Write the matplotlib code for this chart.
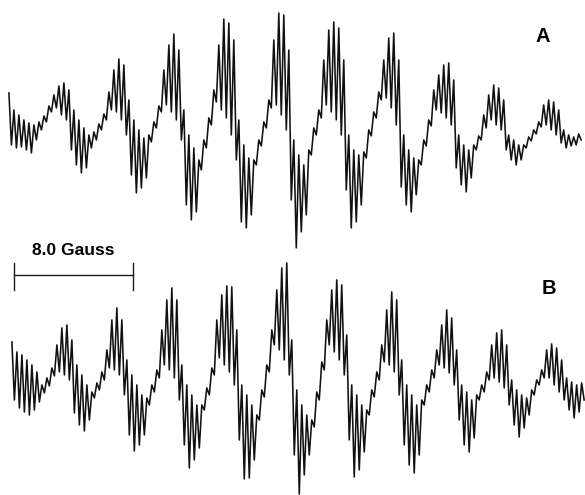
import numpy as np
import matplotlib
matplotlib.use('Agg')
import matplotlib.pyplot as plt

plt.rcParams['font.family'] = ['Liberation Sans', 'DejaVu Sans']

# field sampling (Gauss): one value every half hyperfine wiggle
field_step = 0.168
field_start_a = 0.60
field_start_b = 0.80
bar_start = 0.94
bar_length = 8.0  # Gauss

# spectrum A: upper / lower extremes of each fine wiggle (arb. units)
tops_a = [37, 20, 15, 10, 7, 5, 8, 14, 24,
          35, 44, 47, 40, 20, 10, 2, -5, -2, 6, 16,
          38, 60, 71, 65, 30, 10, 0, -8, -5, 8, 24,
          60, 85, 96, 80, 20, -5, -18, -30, -10, 12,
          40, 85, 111, 107, 90, 10, -15, -28, -30, -10, 8, 30,
          90, 117, 115, 80, -10, -25, -35, -20, 2, 20,
          70, 100, 108, 102, 70, -5, -20, -25, -22, 0, 18, 38,
          70, 92, 97, 70, -5, -20, -28, -30, -10, 10,
          40, 55, 65, 67, 50, -5, -15, -20, -15, -6, 15,
          35, 45, 42, 30, -5, -10, -15, -15, -7, 0, 8,
          25, 30, 28, 20, 0, -5, -7, -4]
bots_a = [-15, -18, -17, -20, -23, -10, 0, 8, 18,
          22, 15, 10, -20, -35, -43, -38, -18, -10, 0, 10,
          20, 18, 10, -5, -45, -63, -58, -48, -12, 2, 18,
          25, 18, 10, -10, -75, -90, -82, -40, -18, 5,
          28, 20, 12, -5, -30, -92, -98, -85, -35, -16, 2, 22,
          25, 15, 0, -70, -118, -102, -85, -25, -5, 12,
          25, 18, 10, -5, -60, -98, -92, -75, -28, -6, 12, 30,
          32, 22, 5, -57, -75, -82, -65, -35, -16, 4,
          20, 17, 12, 5, -38, -55, -62, -48, -20, -10, 2,
          10, 5, 0, -20, -30, -35, -30, -18, -11, -4, 3,
          5, 0, -5, -13, -18, -16, -15, -10]

# spectrum B
tops_b = [43, 33, 30, 25, 20, 13, 0, 7, 17,
          40, 57, 60, 45, 20, 10, 0, -7, 2, 13,
          35, 65, 77, 65, 25, 10, 0, -10, -13, 0, 15,
          55, 85, 97, 85, 20, 0, -10, -20, -20, -3, 17,
          65, 90, 99, 98, 55, 0, -10, -20, -30, -5, 20, 55,
          95, 117, 122, 45, -5, -20, -30, -35, -7, 23,
          65, 95, 105, 100, 50, 0, -10, -20, -25, -5, 13, 40,
          75, 93, 85, 25, 0, -10, -20, -15, 0, 15,
          35, 60, 75, 67, 35, 0, -7, -15, -10, 0, 13,
          40, 52, 55, 40, 5, -5, -10, -13, -5, 5, 15,
          35, 41, 37, 25, 7, 3, 0, 2]
bots_b = [-15, -23, -27, -30, -25, -17, -8, -1, 9,
          13, 10, 5, -28, -40, -46, -35, -13, -5, 5,
          17, 15, 10, -10, -50, -66, -60, -50, -20, -7, 7,
          20, 15, 7, -15, -60, -83, -75, -63, -25, -10, 10,
          27, 20, 13, 0, -55, -94, -93, -75, -35, -12, 13, 40,
          35, 25, 10, -70, -109, -90, -70, -42, -15, 15,
          40, 33, 25, 10, -55, -92, -85, -67, -30, -12, 5, 23,
          20, 13, -10, -60, -80, -88, -70, -20, -7, 7,
          20, 17, 12, 0, -35, -60, -67, -53, -15, -7, 5,
          7, 3, -3, -20, -40, -52, -43, -30, -10, 0, 7,
          7, 0, -7, -15, -25, -33, -27, -15]


def trace(tops, bots, start):
    sig = np.column_stack([tops, bots]).ravel()
    field = start + field_step * np.arange(len(sig))
    return field, sig


fig = plt.figure(figsize=(5.85, 4.95), dpi=100)
ax_a = fig.add_axes([0, 0.475, 1, 0.525])
ax_b = fig.add_axes([0, 0, 1, 0.475])

xa, ya = trace(tops_a, bots_a, field_start_a)
xb, yb = trace(tops_b, bots_b, field_start_b)

ax_a.plot(xa, ya, color='#111111', lw=1.15)
ax_b.plot(xb, yb, color='#111111', lw=1.15)

for ax in (ax_a, ax_b):
    ax.set_xlim(0, 39.33)
    ax.axis('off')
ax_a.set_ylim(-130, 130)
ax_b.set_ylim(-110, 125)

ax_a.text(36.5, 93, 'A', fontsize=14.5, fontweight='bold', ha='center', va='center')
ax_b.text(36.9, 96, 'B', fontsize=14.5, fontweight='bold', ha='center', va='center')

# scale bar
bar_end = bar_start + bar_length
ax_b.plot([bar_start, bar_end], [110, 110], color='#1a1a1a', lw=1.0, clip_on=False)
ax_b.plot([bar_start, bar_start], [95, 122], color='#1a1a1a', lw=1.0, clip_on=False)
ax_b.plot([bar_end, bar_end], [95, 122], color='#1a1a1a', lw=1.0, clip_on=False)
ax_b.text((bar_start + bar_end) / 2, 130, '%.1f Gauss' % bar_length, fontsize=12.5,
          fontweight='bold', ha='center', va='baseline', clip_on=False)

fig.savefig('out.png', dpi=100)
